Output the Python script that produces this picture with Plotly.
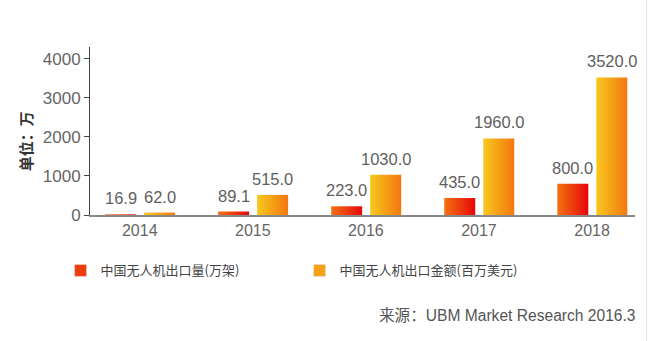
import plotly.graph_objects as go

# Data
years = ["2014", "2015", "2016", "2017", "2018"]
export_volume = [16.9, 89.1, 223.0, 435.0, 800.0]        # 万架
export_value = [62.0, 515.0, 1030.0, 1960.0, 3520.0]     # 百万美元
series_names = ["中国无人机出口量(万架)", "中国无人机出口金额(百万美元)"]

FONT = "Liberation Sans, Arial, Noto Sans CJK SC, sans-serif"
CJK = "Noto Sans CJK SC, Liberation Sans, sans-serif"

# horizontal gradient of each series, left edge -> right edge
gradients = [
    [[0, "#f3720f"], [1, "#e6060b"]],
    [[0, "#f8c81e"], [1, "#f2780e"]],
]
legend_colors = ["#ee3d0c", "#f5a015"]
offsets = [-0.17, 0.175]
half_w = 0.137

fig = go.Figure()
annotations = []

for s, (vals, name) in enumerate(zip([export_volume, export_value], series_names)):
    for i, v in enumerate(vals):
        cx = i + offsets[s]
        x0, x1 = cx - half_w, cx + half_w
        fig.add_trace(go.Scatter(
            x=[x0, x1, x1, x0, x0], y=[0, 0, v, v, 0],
            mode="none", fill="toself",
            fillcolor=legend_colors[s],
            fillgradient=dict(type="horizontal", colorscale=gradients[s],
                              start=x0, stop=x1),
            hoverinfo="skip", showlegend=False, legendgroup=name,
        ))
        # value label above the bar
        annotations.append(dict(
            x=cx, y=v, xref="x", yref="y", text=f"{v:.1f}",
            showarrow=False, yanchor="bottom", yshift=5,
            font=dict(family=FONT, size=16.5, color="#606060"),
        ))
    # legend entry
    fig.add_trace(go.Bar(
        x=[None], y=[None], name=name,
        marker=dict(color=legend_colors[s]),
        legendgroup=name, showlegend=True,
    ))

annotations += [
    dict(text="<b>单位：万</b>", xref="paper", yref="paper",
         x=-0.142, y=0.44, textangle=-90, showarrow=False,
         font=dict(family=CJK, size=15, color="#333333")),
    dict(text="来源：UBM Market Research 2016.3", xref="paper", yref="paper",
         x=0.526, y=-0.60, xanchor="left", yanchor="middle", showarrow=False,
         font=dict(family=FONT, size=15.6, color="#555555")),
]

fig.update_layout(
    width=650, height=341,
    margin=dict(l=90, r=15, t=47, b=126),
    paper_bgcolor="white", plot_bgcolor="white",
    font=dict(family=FONT, color="#555555"),
    xaxis=dict(
        range=[-0.44, 4.38],
        tickmode="array", tickvals=list(range(len(years))), ticktext=years,
        showline=True, linecolor="#888888", linewidth=2,
        ticks="", showgrid=False, zeroline=False,
        tickfont=dict(family=FONT, size=16, color="#666666"),
        fixedrange=True,
    ),
    yaxis=dict(
        range=[0, 4300],
        tickvals=[0, 1000, 2000, 3000, 4000],
        showline=True, linecolor="#444444", linewidth=1,
        ticks="outside", ticklen=5, tickcolor="#444444",
        showgrid=False, zeroline=False,
        tickfont=dict(family=FONT, size=17, color="#666666"),
        fixedrange=True,
    ),
    legend=dict(
        orientation="h", x=-0.054, xanchor="left", y=-0.33, yanchor="middle",
        entrywidth=194, entrywidthmode="pixels",
        font=dict(family=CJK, size=13, color="#444444"),
        itemclick=False, itemdoubleclick=False,
    ),
    showlegend=True,
    annotations=annotations,
    shapes=[
        dict(type="line", xref="paper", yref="paper",
             x0=1.0215, x1=1.0215, y0=1.28, y1=-0.75,
             line=dict(color="#e4e4e4", width=1)),
    ],
)

fig.write_html("out.html")
